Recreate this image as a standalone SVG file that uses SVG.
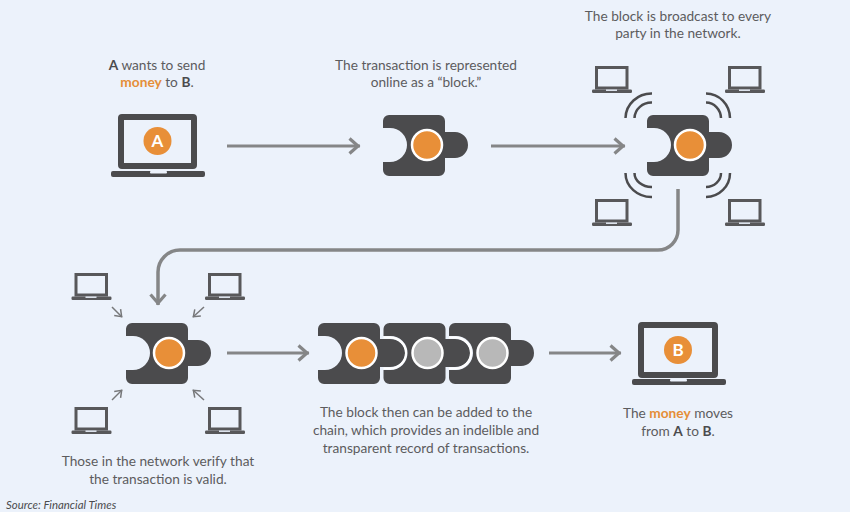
<svg xmlns="http://www.w3.org/2000/svg" width="850" height="512" viewBox="0 0 850 512">
<style>
text{font-family:"Lato","Open Sans","Liberation Sans",sans-serif;font-size:13.7px;fill:#5c5c5e;text-anchor:middle}
.b{font-weight:700;fill:#4b4b4d}
.o{font-weight:700;fill:#e58e38}
.c{font-weight:700;font-size:17px;fill:#fff}
.src{font-size:11.4px;font-style:italic;text-anchor:start;fill:#4b4b4d}
.dark{fill:#4b4b4d}
.or{fill:#e88f38;stroke:#fff;stroke-width:2.5}
.gy{fill:#b8b8b8;stroke:#fff;stroke-width:2.5}
.line{fill:none;stroke:#858687;stroke-width:3}
.thin{fill:none;stroke:#77787a;stroke-width:1.5}
.wave{fill:none;stroke:#4b4b4d;stroke-width:2.5}
.scr{fill:none;stroke:#58585a;stroke-width:3}
.scrL{fill:none;stroke:#4b4b4d;stroke-width:6}
</style>
<defs>
<path id="blk" class="dark" d="M6,0H56a6,6 0 0 1 6,6V17H72a13,13 0 0 1 0,26H62V55a6,6 0 0 1 -6,6H6a6,6 0 0 1 -6,-6V47H7a17,17 0 0 0 0,-34H0V6a6,6 0 0 1 6,-6Z"/>
<g id="lap"><rect class="scr" x="1.5" y="1.5" width="30.500" height="20.500"/><rect x="-3" y="23.500" width="40" height="3.500" rx="1.200" fill="#58585a"/><rect x="11" y="23.500" width="11" height="1.400" fill="#ecf2fb"/></g>
<marker id="h" markerUnits="userSpaceOnUse" markerWidth="20" markerHeight="20" refX="12" refY="10" orient="auto" overflow="visible"><path d="M1.500,2.500L10,10L1.500,17.500" fill="none" stroke="#858687" stroke-width="3.200"/></marker>
<marker id="hs" markerUnits="userSpaceOnUse" markerWidth="12" markerHeight="12" refX="8" refY="6" orient="auto" overflow="visible"><path d="M1.500,1.500L7.500,6L1.500,10.500" fill="none" stroke="#77787a" stroke-width="1.500"/></marker>
</defs>
<rect width="850" height="512" fill="#ecf2fb"/>

<g id="connectors">
<path class="line" marker-end="url(#h)" d="M227,146H360"/>
<path class="line" marker-end="url(#h)" d="M491,146H625"/>
<path class="line" style="stroke-width:3.5" marker-end="url(#h)" d="M678,189V230A20,20 0 0 1 658,250H180A22,22 0 0 0 158,272V305"/>
<path class="line" marker-end="url(#h)" d="M227,353H309"/>
<path class="line" marker-end="url(#h)" d="M549,353H621"/>
<path class="thin" marker-end="url(#hs)" d="M112,307L122,317"/>
<path class="thin" marker-end="url(#hs)" d="M204,307L193,317"/>
<path class="thin" marker-end="url(#hs)" d="M112,400L122,390"/>
<path class="thin" marker-end="url(#hs)" d="M204,400L193,390"/>
</g>

<g id="node-a">
<text x="157" y="70"><tspan class="b">A</tspan> wants to send</text>
<text x="157" y="87"><tspan class="o">money</tspan> to <tspan class="b">B</tspan>.</text>
<rect class="scrL" x="121" y="117" width="73" height="49" rx="1"/>
<rect x="111" y="171" width="94" height="6" rx="2" class="dark"/>
<rect x="150" y="171" width="17" height="2.500" rx="1" fill="#ecf2fb"/>
<circle cx="157.500" cy="141" r="14" fill="#e88f38"/>
<text class="c" x="157.500" y="147">A</text>
</g>

<g id="node-block">
<text x="426" y="70">The transaction is represented</text>
<text x="426" y="87">online as a “block.”</text>
<use href="#blk" x="383" y="115"/>
<circle class="or" cx="427" cy="145" r="15"/>
</g>

<g id="node-broadcast">
<text x="678" y="21">The block is broadcast to every</text>
<text x="678" y="38">party in the network.</text>
<use href="#blk" x="647" y="115"/>
<circle class="or" cx="690" cy="145" r="15"/>
<path class="wave" d="M625.500,118A26,25 0 0 1 652,93.500M634.500,118A17,16 0 0 1 652,102.500"/>
<path class="wave" d="M706,93.500A24,25 0 0 1 730,118M706,102.500A15,16 0 0 1 721,118"/>
<path class="wave" d="M625.500,173A26,24 0 0 0 652,197M634.500,173A17,14 0 0 0 652,187"/>
<path class="wave" d="M706,197A24,24 0 0 0 730,173M706,187A15,14 0 0 0 721,173"/>
<use href="#lap" x="595" y="66"/>
<use href="#lap" x="728" y="66"/>
<use href="#lap" x="595" y="199"/>
<use href="#lap" x="728" y="199"/>
</g>

<g id="node-verify">
<text x="158" y="466">Those in the network verify that</text>
<text x="158" y="484">the transaction is valid.</text>
<use href="#blk" x="126" y="323"/>
<circle class="or" cx="169" cy="353" r="15"/>
<use href="#lap" x="74.500" y="273"/>
<use href="#lap" x="208" y="273"/>
<use href="#lap" x="74.500" y="407"/>
<use href="#lap" x="208" y="407"/>
</g>

<g id="node-chain">
<text x="426" y="417">The block then can be added to the</text>
<text x="426" y="435">chain, which provides an indelible and</text>
<text x="426" y="453">transparent record of transactions.</text>
<use href="#blk" x="318" y="323"/>
<use href="#blk" x="383.500" y="323"/>
<use href="#blk" x="449" y="323"/>
<path class="dark" d="M378,339H390a15,14 0 0 1 0,28H378Z"/>
<path d="M383.500,337.500H390a16,15.500 0 0 1 0,31H383.500" fill="none" stroke="#fff" stroke-width="2"/>
<path class="dark" d="M444,339H455a15,14 0 0 1 0,28H444Z"/>
<path d="M449,337.500H455a16,15.500 0 0 1 0,31H449" fill="none" stroke="#fff" stroke-width="2"/>
<circle class="or" cx="361.500" cy="353" r="15"/>
<circle class="gy" cx="427.500" cy="353" r="15"/>
<circle class="gy" cx="492.500" cy="353" r="15"/>
</g>

<g id="node-b">
<text x="678" y="418">The <tspan class="o">money</tspan> moves</text>
<text x="678" y="436">from <tspan class="b">A</tspan> to <tspan class="b">B</tspan>.</text>
<rect class="scrL" x="641" y="325" width="74" height="50" rx="1"/>
<rect x="632" y="379" width="94" height="6" rx="2" class="dark"/>
<rect x="670" y="379" width="17" height="2.500" rx="1" fill="#ecf2fb"/>
<circle cx="678" cy="350" r="14" fill="#e88f38"/>
<text class="c" x="678" y="356">B</text>
</g>

<text class="src" x="6" y="509">Source: Financial Times</text>
</svg>
